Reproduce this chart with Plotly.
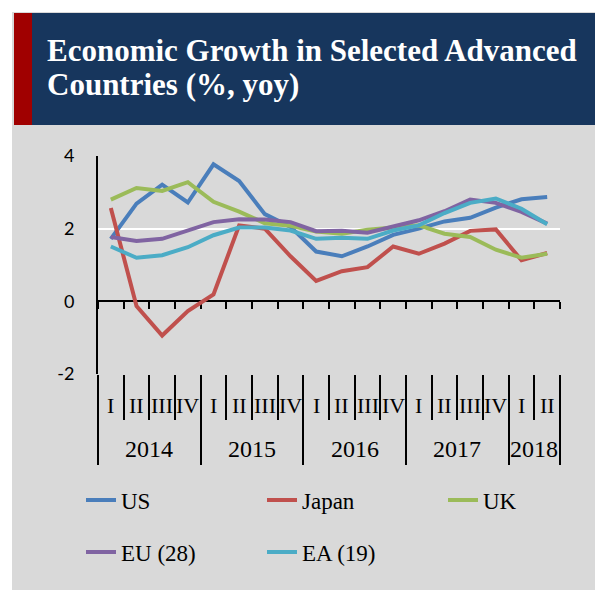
import plotly.graph_objects as go

# ---- data ----
quarters = ["I", "II", "III", "IV", "I", "II", "III", "IV", "I", "II", "III", "IV",
            "I", "II", "III", "IV", "I", "II"]
years = ["2014", "2015", "2016", "2017", "2018"]
quarters_per_year = [4, 4, 4, 4, 2]

us = [1.72, 2.69, 3.21, 2.72, 3.77, 3.31, 2.40, 2.05, 1.37, 1.24, 1.51, 1.83, 2.00, 2.20, 2.30, 2.58, 2.81, 2.87]
japan = [2.57, -0.13, -0.94, -0.27, 0.19, 2.09, 2.00, 1.24, 0.56, 0.83, 0.94, 1.51, 1.31, 1.59, 1.94, 1.98, 1.13, 1.33]
uk = [2.80, 3.12, 3.04, 3.28, 2.74, 2.47, 2.15, 2.08, 1.92, 1.86, 1.97, 2.03, 2.09, 1.86, 1.77, 1.42, 1.20, 1.31]
eu28 = [1.77, 1.66, 1.72, 1.95, 2.18, 2.26, 2.25, 2.18, 1.93, 1.94, 1.89, 2.06, 2.23, 2.48, 2.80, 2.71, 2.46, 2.14]
ea19 = [1.51, 1.20, 1.27, 1.49, 1.82, 2.03, 2.03, 1.95, 1.72, 1.75, 1.72, 1.95, 2.09, 2.43, 2.71, 2.83, 2.55, 2.12]

series_names = ["US", "Japan", "UK", "EU (28)", "EA (19)"]
series_values = [us, japan, uk, eu28, ea19]
series_colors = ["#4A7EBB", "#C0504D", "#9BBB59", "#8064A2", "#4BACC6"]
series_legend = ["legend", "legend", "legend", "legend2", "legend2"]

y_ticks = [-2, 0, 2, 4]
title_lines = ["Economic Growth in Selected Advanced", "Countries (%, yoy)"]

# ---- geometry (page coordinates; the html body adds an 8px margin) ----
OFF = 8
W, H = 603 - OFF, 590 - OFF
ML, MR, MT, MB = 98 - OFF, 43, 156 - OFF, 216
PW, PH = W - ML - MR, H - MT - MB


def px_x(p):
    return (p - OFF - ML) / PW


def px_y(p):
    return 1 - (p - OFF - MT) / PH


n = len(quarters)
xs = list(range(n))
bounds = [i - 0.5 for i in range(n + 1)]
year_bounds = [-0.5]
for c in quarters_per_year:
    year_bounds.append(year_bounds[-1] + c)
year_centers = [(year_bounds[k] + year_bounds[k + 1]) / 2 for k in range(len(years))]

fig = go.Figure()
for name, vals, col, lg in zip(series_names, series_values, series_colors, series_legend):
    fig.add_trace(go.Scatter(x=xs, y=vals, name=name, mode="lines",
                             line=dict(color=col, width=4), legend=lg))

serif = "Liberation Serif"

# category labels
annotations = []
for i, q in enumerate(quarters):
    annotations.append(dict(x=i, y=px_y(405), xref="x", yref="paper", text=q,
                            showarrow=False, xanchor="center", yanchor="middle",
                            font=dict(family=serif, size=22, color="#000000")))
for yc, yr in zip(year_centers, years):
    annotations.append(dict(x=yc, y=px_y(449), xref="x", yref="paper", text=yr,
                            showarrow=False, xanchor="center", yanchor="middle",
                            font=dict(family=serif, size=24, color="#000000")))
# title
for line, ypix in zip(title_lines, [51, 84]):
    annotations.append(dict(x=px_x(45), y=px_y(ypix), xref="paper", yref="paper", text=line,
                            showarrow=False, xanchor="left", yanchor="middle",
                            font=dict(family=serif, size=31, color="#FFFFFF", weight="bold")))

shapes = [
    dict(type="rect", xref="paper", yref="paper", x0=px_x(12), x1=px_x(603), y0=px_y(590), y1=px_y(12),
         fillcolor="#D9D9D9", line=dict(width=0), layer="below"),
    dict(type="rect", xref="paper", yref="paper", x0=px_x(14), x1=px_x(603), y0=px_y(125), y1=px_y(13),
         fillcolor="#17365D", line=dict(width=0), layer="below"),
    dict(type="rect", xref="paper", yref="paper", x0=px_x(14), x1=px_x(32), y0=px_y(125), y1=px_y(13),
         fillcolor="#A00000", line=dict(width=0), layer="below"),
]

xr = [-0.5, n - 0.5]
fig.update_layout(
    template="none",
    width=W, height=H,
    margin=dict(l=ML, r=MR, t=MT, b=MB, autoexpand=False),
    paper_bgcolor="#FFFFFF",
    plot_bgcolor="rgba(0,0,0,0)",
    showlegend=True,
    xaxis=dict(range=xr, showgrid=False, zeroline=False, showline=False,
               tickmode="array", tickvals=year_bounds, showticklabels=False,
               ticks="outside", ticklen=90, tickwidth=2, tickcolor="#000000",
               minor=dict(tickmode="array", tickvals=bounds, ticks="outside", ticklen=45,
                          tickwidth=2, tickcolor="#000000", showgrid=False),
               automargin=False, fixedrange=True),
    xaxis2=dict(range=xr, overlaying="x", anchor="free", position=1 / 3, side="bottom",
                showgrid=False, zeroline=False, showline=True, linecolor="#000000", linewidth=2,
                tickmode="array", tickvals=bounds, ticks="outside", ticklen=7, tickwidth=2,
                tickcolor="#000000", showticklabels=False, layer="below traces",
                automargin=False, fixedrange=True),
    yaxis=dict(range=[-2, 4], tickmode="array", tickvals=y_ticks,
               ticktext=[str(v) for v in y_ticks],
               showgrid=True, gridcolor="#FFFFFF", gridwidth=1.5, zeroline=False,
               showline=True, linecolor="#000000", linewidth=2, layer="below traces",
               ticks="outside", ticklen=18, tickcolor="rgba(0,0,0,0)",
               tickfont=dict(family="Lato", size=18, color="#000000"),
               automargin=False, fixedrange=True),
    legend=dict(orientation="h", x=px_x(81), y=px_y(500), xanchor="left", yanchor="middle",
                entrywidth=136, entrywidthmode="pixels", bgcolor="rgba(0,0,0,0)",
                font=dict(family=serif, size=23, color="#000000"), itemclick=False),
    legend2=dict(orientation="h", x=px_x(81), y=px_y(552), xanchor="left", yanchor="middle",
                 entrywidth=136, entrywidthmode="pixels", bgcolor="rgba(0,0,0,0)",
                 font=dict(family=serif, size=23, color="#000000"), itemclick=False),
    annotations=annotations,
    shapes=shapes,
)
# empty trace so the overlaid zero axis (xaxis2) is drawn
fig.add_trace(go.Scatter(x=[None], y=[None], xaxis="x2", showlegend=False, hoverinfo="skip"))

fig.write_html("out.html", config={"displayModeBar": False})
